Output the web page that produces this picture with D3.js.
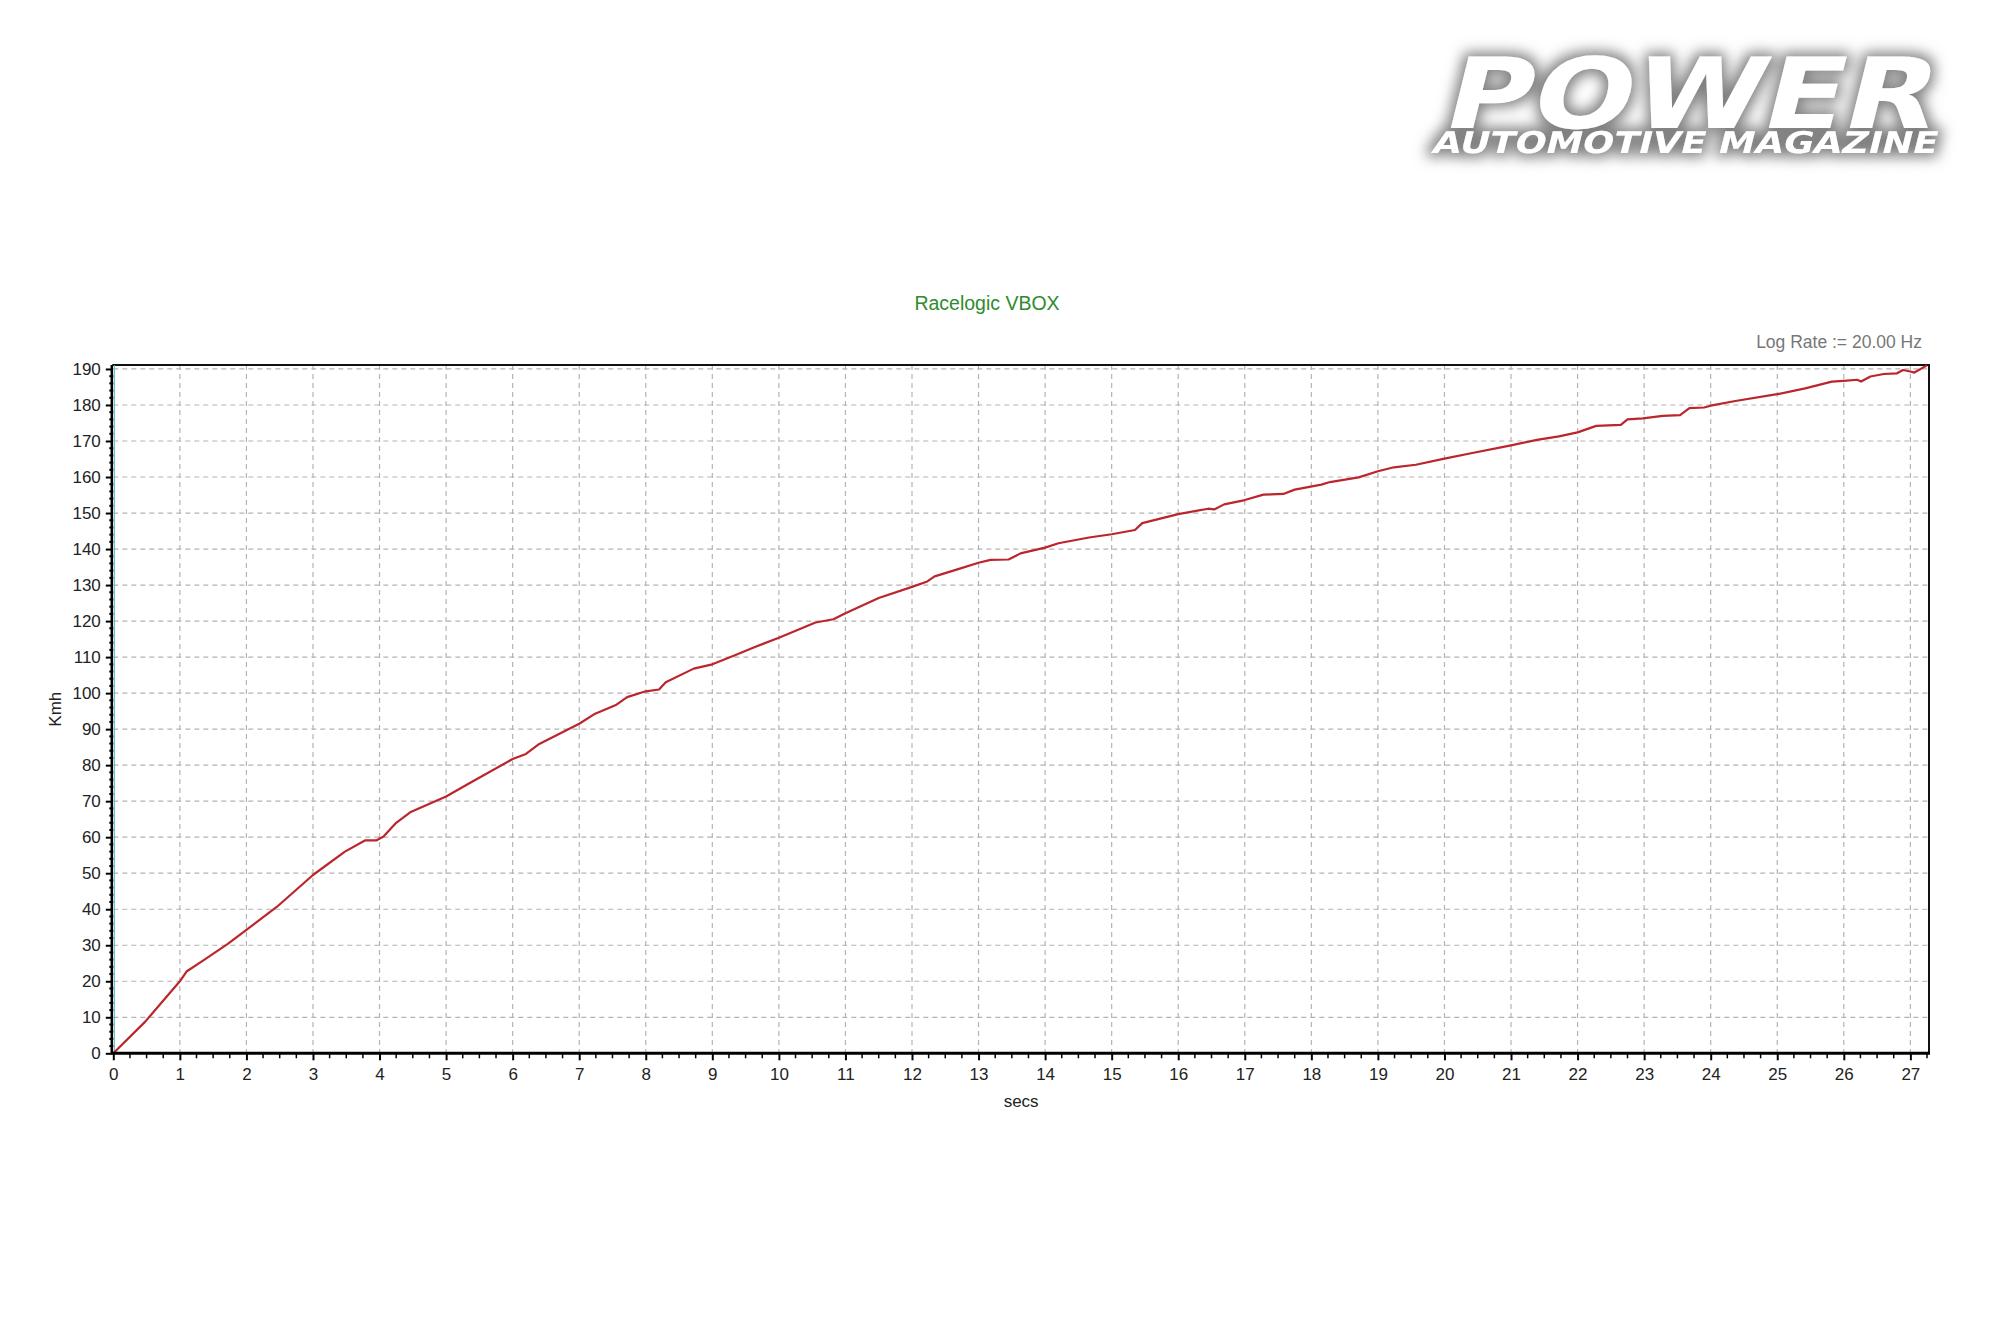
<!DOCTYPE html>
<html>
<head>
<meta charset="utf-8">
<script src="https://cdn.jsdelivr.net/npm/d3@7"></script>
<style>
  html, body { margin: 0; padding: 0; background: #fff; }
  svg { display: block; }
</style>
</head>
<body>
<svg id="chart" width="2000" height="1333"></svg>
<script>
// ---- data ----
const timeSecs = [0,0.48,1.0,1.1,1.37,1.72,2.0,2.46,3.0,3.48,3.78,3.95,4.06,4.25,4.46,5.0,5.37,6.0,6.2,6.4,7.0,7.24,7.56,7.72,8.0,8.2,8.3,8.72,9.0,9.34,9.64,10.0,10.55,10.82,11.0,11.5,12.0,12.23,12.34,12.67,13.0,13.18,13.45,13.63,14.0,14.2,14.66,15.0,15.35,15.46,16.0,16.45,16.54,16.69,17.0,17.28,17.58,17.75,18.15,18.28,18.71,19.0,19.24,19.57,20.0,20.4,21.0,21.39,21.72,22.0,22.28,22.65,22.75,22.98,23.28,23.54,23.68,23.9,24.0,24.37,25.0,25.42,25.82,26.0,26.2,26.26,26.4,26.6,26.8,26.89,27.0,27.06,27.25];
const speedKmh = [0,8.8,20,22.7,26,30.4,34.3,40.7,49.5,56,59.1,59.1,60.2,64,66.9,71.3,75.2,81.7,83.1,85.9,91.5,94.3,96.8,98.9,100.5,101,103,106.8,108,110.5,112.8,115.4,119.6,120.5,122.2,126.4,129.5,131,132.4,134.3,136.2,137,137.1,138.8,140.4,141.6,143.2,144.1,145.3,147.2,149.7,151.2,151,152.4,153.6,155.1,155.3,156.5,157.9,158.6,159.9,161.6,162.7,163.4,165.1,166.6,168.8,170.3,171.3,172.4,174.2,174.5,176,176.3,177,177.2,179.1,179.3,179.8,181.1,183,184.6,186.5,186.7,187,186.5,187.9,188.6,188.8,189.7,189.3,189,191];
const xTickLabels = d3.range(0, 28);          // 0..27 secs
const yTickLabels = d3.range(0, 200, 10);     // 0..190 Kmh
const xMinorTicks = d3.range(0, 27.3, 0.25);
const yMinorTicks = d3.range(0, 191, 2);
const chartTitle = "Racelogic VBOX";
const logRateText = "Log Rate := 20.00 Hz";
const xAxisTitle = "secs";
const yAxisTitle = "Kmh";

// ---- layout ----
const L = 113.3, R = 1929, T = 365, B = 1053.3;
const svg = d3.select("#chart");
const x = d3.scaleLinear().domain([0, 27.28]).range([L, R]);
const y = d3.scaleLinear().domain([0, 191.1]).range([B, T]);

// ---- logo ----
const defs = svg.append("defs");
const f = defs.append("filter").attr("id", "glow")
  .attr("x", "-10%").attr("y", "-30%").attr("width", "120%").attr("height", "160%");
f.append("feMorphology").attr("in", "SourceAlpha").attr("operator", "dilate").attr("radius", 4).attr("result", "d");
f.append("feGaussianBlur").attr("in", "d").attr("stdDeviation", 7).attr("result", "b");
f.append("feFlood").attr("flood-color", "#7a7a7a").attr("flood-opacity", 0.95);
f.append("feComposite").attr("in2", "b").attr("operator", "in").attr("result", "s");
const fm = f.append("feMerge");
fm.append("feMergeNode").attr("in", "s");
fm.append("feMergeNode").attr("in", "SourceGraphic");

const logo = svg.append("g").attr("filter", "url(#glow)");
logo.append("text")
  .attr("x", 1440).attr("y", 128)
  .attr("transform", "skewX(-14) translate(32,0)")
  .attr("textLength", 490).attr("lengthAdjust", "spacingAndGlyphs")
  .style("font-family", "'DejaVu Sans', sans-serif").style("font-weight", "bold")
  .style("font-size", "98px").style("fill", "#ffffff")
  .text("POWER");
logo.append("text")
  .attr("x", 1431).attr("y", 153)
  .attr("transform", "skewX(-14) translate(38,0)")
  .attr("textLength", 505).attr("lengthAdjust", "spacingAndGlyphs")
  .style("font-family", "'DejaVu Sans', sans-serif").style("font-weight", "bold")
  .style("font-size", "30px").style("fill", "#ffffff")
  .text("AUTOMOTIVE MAGAZINE");

// ---- titles ----
svg.append("text").attr("x", 987).attr("y", 310).attr("text-anchor", "middle")
  .style("font-family", "'Liberation Sans', Arial, sans-serif").style("font-size", "19.5px")
  .style("fill", "#2e8b2e").text(chartTitle);
svg.append("text").attr("x", 1922).attr("y", 348).attr("text-anchor", "end")
  .style("font-family", "'Liberation Sans', Arial, sans-serif").style("font-size", "17.5px")
  .style("fill", "#777").text(logRateText);

// ---- grid ----
const grid = svg.append("g").attr("stroke", "#b4b4b4").attr("stroke-width", 1.2).attr("stroke-dasharray", "5,4");
grid.selectAll("line.v").data(xTickLabels.filter(d => d > 0)).join("line")
  .attr("x1", d => x(d)).attr("x2", d => x(d)).attr("y1", T).attr("y2", B);
grid.selectAll("line.h").data(yTickLabels.filter(d => d > 0)).join("line")
  .attr("x1", L).attr("x2", R).attr("y1", d => y(d)).attr("y2", d => y(d));

// ---- frame ----
svg.append("line").attr("x1", L - 1).attr("x2", R + 1).attr("y1", T).attr("y2", T).attr("stroke", "#111").attr("stroke-width", 2);
svg.append("line").attr("x1", R).attr("x2", R).attr("y1", T).attr("y2", B).attr("stroke", "#111").attr("stroke-width", 2);
svg.append("line").attr("x1", L + 1).attr("x2", L + 1).attr("y1", T).attr("y2", B).attr("stroke", "#49b6c4").attr("stroke-width", 1);

// ---- data line ----
const pts = timeSecs.map((t, i) => [t, speedKmh[i]]);
svg.append("path").datum(pts)
  .attr("d", d3.line().x(d => x(d[0])).y(d => y(d[1])).curve(d3.curveLinear))
  .attr("fill", "none").attr("stroke", "#bb252c").attr("stroke-width", 2.2).attr("stroke-linejoin", "round");

// ---- axes ----
const font = "'Liberation Sans', Arial, sans-serif";
const xAxis = d3.axisBottom(x).tickValues(xTickLabels).tickSize(7).tickPadding(8).tickFormat(d3.format("d"));
const gx = svg.append("g").attr("transform", `translate(0,${B})`).call(xAxis);
gx.select(".domain").attr("stroke", "#000").attr("stroke-width", 3).attr("d", `M${L - 2},0H${R + 1}`);
gx.selectAll(".tick line").attr("stroke", "#000").attr("stroke-width", 2);
gx.selectAll(".tick text").style("font-family", font).style("font-size", "17px").style("fill", "#222");
const gxm = svg.append("g").attr("transform", `translate(0,${B})`);
gxm.selectAll("line").data(xMinorTicks.filter(d => d % 1 !== 0)).join("line")
  .attr("x1", d => x(d)).attr("x2", d => x(d)).attr("y1", 0).attr("y2", 5)
  .attr("stroke", "#000").attr("stroke-width", 1.5);

const yAxis = d3.axisLeft(y).tickValues(yTickLabels).tickSize(6).tickPadding(5).tickFormat(d3.format("d"));
const gy = svg.append("g").attr("transform", `translate(${L - 1.5},0)`).call(yAxis);
gy.select(".domain").attr("stroke", "#000").attr("stroke-width", 2.5).attr("d", `M0,${B + 1}V${T}`);
gy.selectAll(".tick line").attr("stroke", "#000").attr("stroke-width", 2);
gy.selectAll(".tick text").style("font-family", font).style("font-size", "17px").style("fill", "#222");
const gym = svg.append("g").attr("transform", `translate(${L - 1.5},0)`);
gym.selectAll("line").data(yMinorTicks.filter(d => d % 10 !== 0)).join("line")
  .attr("x1", -2.5).attr("x2", 1.5).attr("y1", d => y(d)).attr("y2", d => y(d))
  .attr("stroke", "#000").attr("stroke-width", 2);

// axis titles
svg.append("text").attr("x", (L + R) / 2).attr("y", 1107).attr("text-anchor", "middle")
  .style("font-family", font).style("font-size", "17px").style("fill", "#222").text(xAxisTitle);
svg.append("text").attr("transform", `translate(61,${(T + B) / 2}) rotate(-90)`).attr("text-anchor", "middle")
  .style("font-family", font).style("font-size", "17px").style("fill", "#222").text(yAxisTitle);
</script>
</body>
</html>
